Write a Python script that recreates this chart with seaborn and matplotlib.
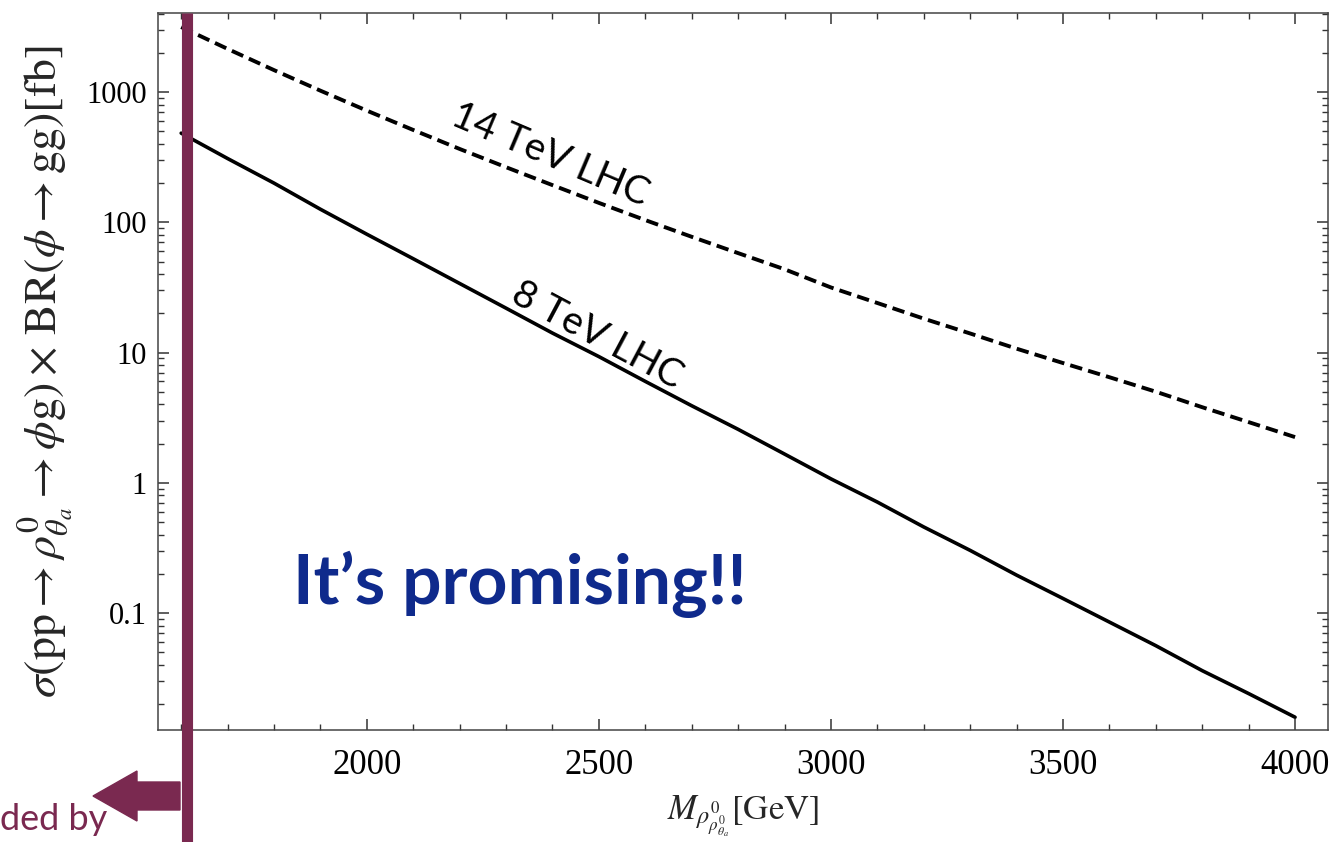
import numpy as np
import pandas as pd
import matplotlib
matplotlib.use('Agg')
import matplotlib.pyplot as plt
from matplotlib.patches import FancyArrow
from matplotlib.ticker import FixedLocator, FixedFormatter, MultipleLocator, LogLocator, NullFormatter
import seaborn as sns

# values (cross section in fb vs resonance mass in GeV)
mass = [1600, 1700, 1800, 1900, 2000, 2100, 2200, 2300, 2400, 2500, 2600, 2700, 2800,
        2900, 3000, 3100, 3200, 3300, 3400, 3500, 3600, 3700, 3800, 3900, 4000]
xsec_14tev = [3162, 2148, 1476, 1026, 721, 512, 366, 265, 193, 141, 104, 77.4, 58.0,
              43.6, 31.6, 24.0, 18.2, 14.0, 10.7, 8.3, 6.46, 5.0, 3.8, 2.92, 2.24]
xsec_8tev = [484, 309, 200, 126, 81, 52.5, 33.9, 21.9, 14.1, 9.3, 6.0, 3.9, 2.57,
             1.66, 1.07, 0.71, 0.457, 0.302, 0.195, 0.129, 0.085, 0.056, 0.036, 0.024, 0.0158]

excluded_mass = 1612
x_ticks = [2000, 2500, 3000, 3500, 4000]
y_ticks = [0.1, 1, 10, 100, 1000]
y_tick_labels = ['0.1', '1', '10', '100', '1000']

maroon = '#7a2950'
navy = '#0f2a8c'

sns.set_theme(style='ticks')
plt.rcParams['font.family'] = ['Liberation Serif', 'DejaVu Serif']
plt.rcParams['mathtext.fontset'] = 'stix'

df = pd.DataFrame({'mass': mass, '14 TeV': xsec_14tev, '8 TeV': xsec_8tev})

fig = plt.figure(figsize=(13.32, 8.42), dpi=100)
ax = fig.add_axes([0.1186, 0.133, 0.8784, 0.8516])

sns.lineplot(data=df, x='mass', y='14 TeV', ax=ax, color='black', linewidth=2.8)
ax.lines[-1].set_dashes((3.2, 1.6))
sns.lineplot(data=df, x='mass', y='8 TeV', ax=ax, color='black', linewidth=2.6)

ax.set_yscale('log')
ax.set_xlim(1550, 4071)
ax.set_ylim(0.0126, 4055)

ax.xaxis.set_major_locator(FixedLocator(x_ticks))
ax.xaxis.set_minor_locator(MultipleLocator(100))
ax.yaxis.set_major_locator(FixedLocator(y_ticks))
ax.yaxis.set_major_formatter(FixedFormatter(y_tick_labels))
ax.yaxis.set_minor_locator(LogLocator(base=10, subs=np.arange(2, 10)))
ax.yaxis.set_minor_formatter(NullFormatter())

ax.tick_params(which='both', direction='in', top=True, right=True, colors='#333333',
               labelcolor='black')
ax.tick_params(which='major', length=8, width=1.1)
ax.tick_params(which='minor', length=4.5, width=1.0)
ax.tick_params(axis='x', which='major', pad=14, labelsize=25)
ax.tick_params(axis='y', which='major', pad=8, labelsize=22)
for s in ax.spines.values():
    s.set_color('#444444')
    s.set_linewidth(1.1)

ax.set_xlabel(r'$M_{\rho^0_{\rho^0_{\theta_a}}}[\mathrm{GeV}]$', fontsize=25, labelpad=8)
ax.set_ylabel(r'$\sigma(\mathrm{pp}\rightarrow\rho^0_{\theta_a}\rightarrow\phi\mathrm{g})\times\,'
              r'\mathrm{BR}(\phi\rightarrow\mathrm{gg})[\mathrm{fb}]$', fontsize=33, labelpad=8)

# curve labels
ax.text(2396, 327, '14 TeV LHC', rotation=-23, ha='center', va='center',
        rotation_mode='anchor', fontsize=28, family='Lato', color='black')
ax.text(2497, 13.5, '8 TeV LHC', rotation=-28, ha='center', va='center',
        rotation_mode='anchor', fontsize=28, family='Lato', color='black')
ax.text(2329, 0.117, 'It\u2019s promising!!', ha='center', va='baseline',
        fontsize=50, fontweight='bold', family='Lato', color=navy)

# exclusion bar and arrow (slide overlay)
ax.axvline(excluded_mass, ymin=-0.16, ymax=1.0, color=maroon, linewidth=8, clip_on=False,
           solid_capstyle='butt', zorder=5)
fig.patches.append(FancyArrow(1.80, 0.46, -0.87, 0, width=0.28, head_width=0.50,
                              head_length=0.44, length_includes_head=True, color=maroon,
                              transform=fig.dpi_scale_trans, figure=fig))
fig.text(0.0, 0.014, 'ded by', fontsize=26, family='Lato', color=maroon, ha='left',
         va='baseline')

plt.savefig('out.png', dpi=100)
plt.close()
